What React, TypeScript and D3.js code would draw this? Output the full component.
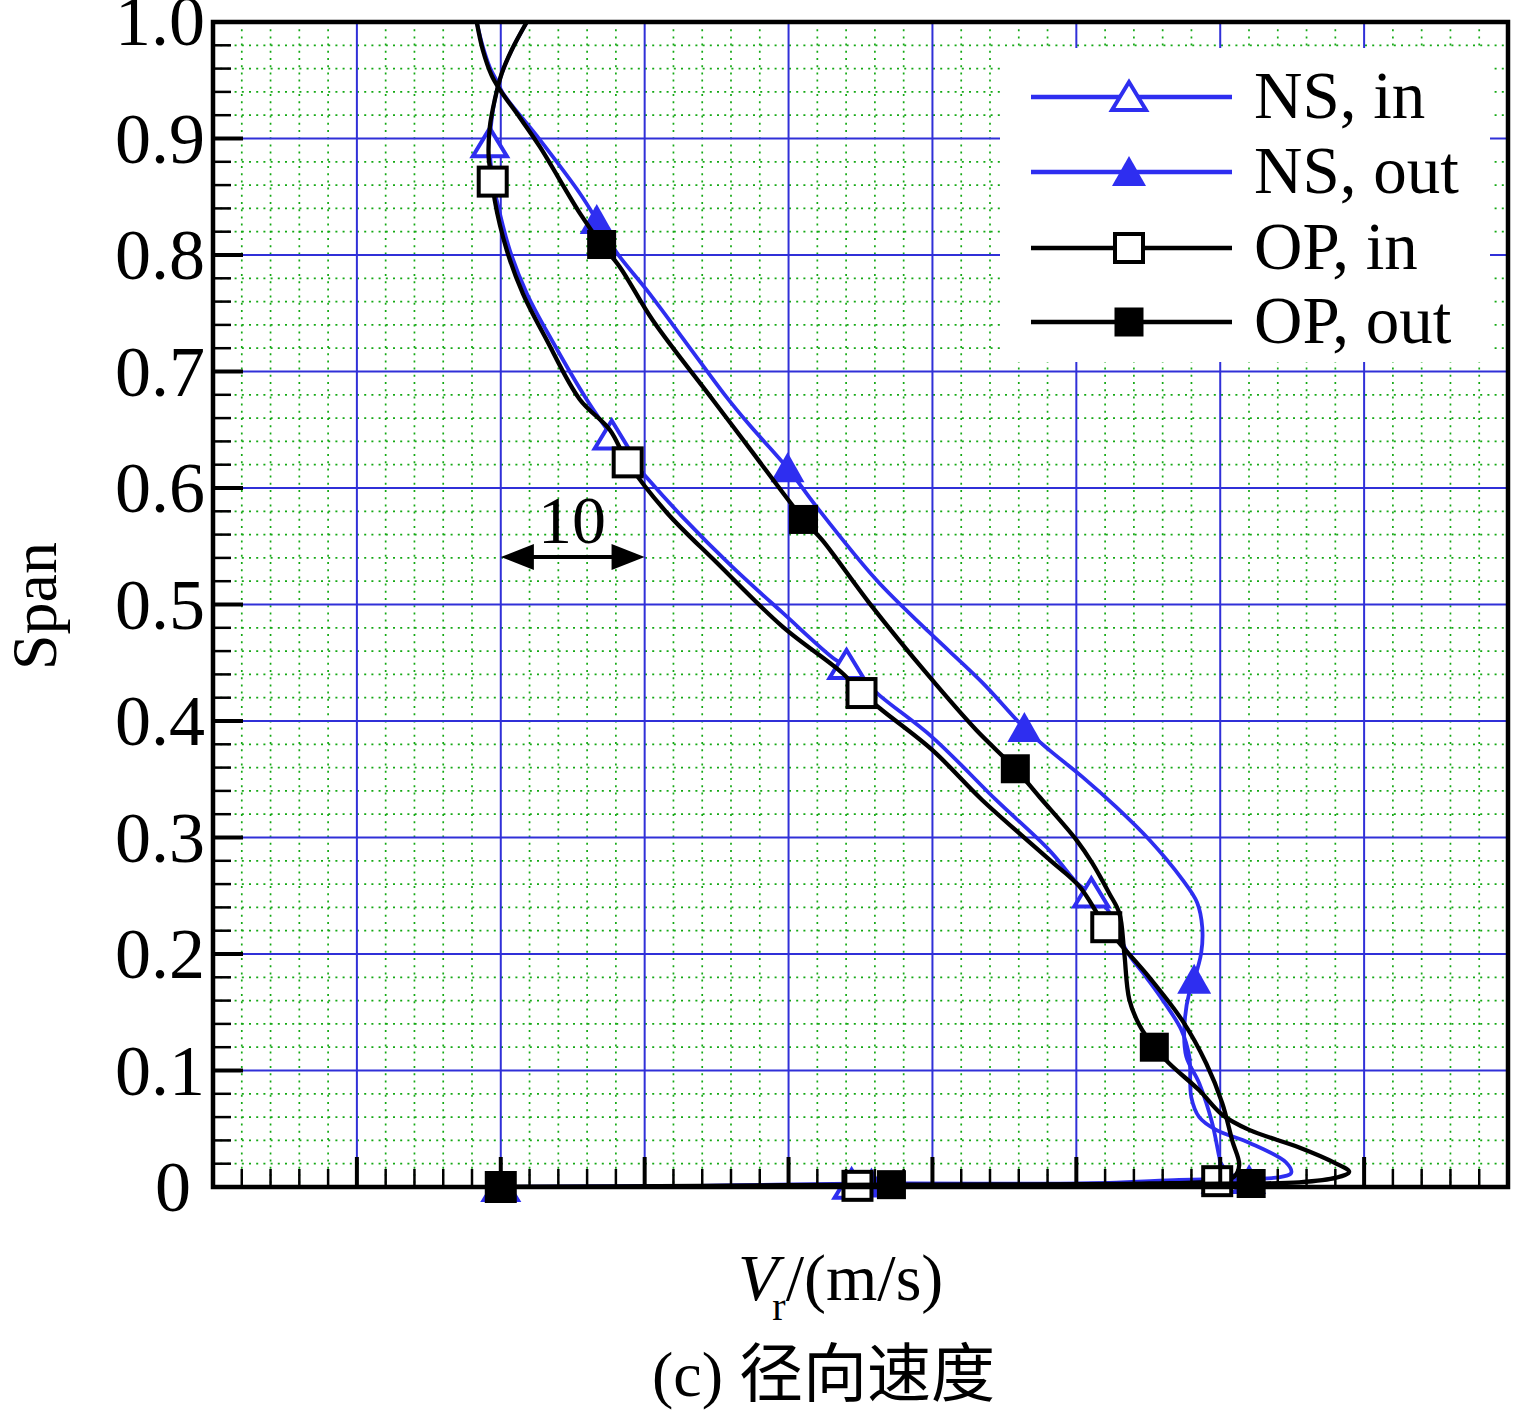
import React from 'react';
import * as d3 from 'd3';

// ---------- data (Vr in m/s, span 0..1) ----------
const xDomain: [number, number] = [-20, 70];
const spanTicks = [0, 0.1, 0.2, 0.3, 0.4, 0.5, 0.6, 0.7, 0.8, 0.9, 1.0];
const spanTickLabels = ['0', '0.1', '0.2', '0.3', '0.4', '0.5', '0.6', '0.7', '0.8', '0.9', '1.0'];
const seriesNames = ['NS, in', 'NS, out', 'OP, in', 'OP, out'];

const nsIn: [number, number][] = [
  [1.81, 1.0], [0.76, 0.976], [0.07, 0.956], [-0.42, 0.933], [-0.69, 0.91], [-0.76, 0.896],
  [-0.63, 0.869], [-0.28, 0.847], [0.63, 0.804], [1.81, 0.767], [3.54, 0.727], [5.97, 0.676],
  [7.71, 0.645], [10.14, 0.609], [12.64, 0.575], [16.11, 0.532], [19.58, 0.493], [23.33, 0.452],
  [24.03, 0.448], [26.32, 0.422], [30.0, 0.386], [34.44, 0.332], [38.13, 0.289], [40.21, 0.259],
  [41.04, 0.252], [42.29, 0.236], [43.47, 0.203], [44.86, 0.18], [45.97, 0.161], [47.29, 0.135],
  [47.85, 0.112], [47.99, 0.077], [48.54, 0.06], [49.72, 0.049], [52.01, 0.038], [54.58, 0.021],
  [54.93, 0.012], [53.89, 0.008], [50.07, 0.007], [47.15, 0.006], [40.9, 0.003], [24.38, 0.002],
  [13.82, 0.001], [0, 0],
];
const nsInMarkers: [number, number][] = [
  [-0.76, 0.896], [7.71, 0.645], [24.03, 0.448], [41.04, 0.252], [50.07, 0.007], [24.38, 0.002], [0, 0],
];

const nsOut: [number, number][] = [
  [-1.67, 1.0], [-1.32, 0.982], [-0.76, 0.961], [-0.21, 0.948], [0.14, 0.939], [2.71, 0.899],
  [5.49, 0.853], [6.67, 0.83], [8.06, 0.802], [10.14, 0.77], [12.92, 0.724], [15.69, 0.678],
  [17.29, 0.654], [19.93, 0.617], [21.94, 0.584], [26.11, 0.521], [29.79, 0.476], [33.47, 0.433],
  [36.39, 0.394], [38.13, 0.375], [40.42, 0.352], [42.78, 0.326], [45.07, 0.298], [47.36, 0.264],
  [48.4, 0.244], [48.75, 0.223], [48.68, 0.201], [48.19, 0.178], [47.85, 0.167], [47.5, 0.135],
  [47.64, 0.112], [48.54, 0.089], [49.44, 0.055], [49.93, 0.026], [50.14, 0.015], [51.32, 0.008],
  [52.01, 0.006], [41.6, 0.003], [25.76, 0.003], [13.82, 0.001], [0, 0],
];
const nsOutMarkers: [number, number][] = [
  [6.67, 0.83], [19.93, 0.617], [36.39, 0.394], [48.19, 0.178], [52.01, 0.006], [25.76, 0.003], [0, 0],
];

const opIn: [number, number][] = [
  [1.81, 1.0], [0.76, 0.976], [0.07, 0.956], [-0.42, 0.933], [-0.76, 0.91], [-0.83, 0.882],
  [-0.56, 0.863], [-0.42, 0.847], [0.42, 0.804], [1.53, 0.767], [3.19, 0.727], [5.49, 0.676],
  [7.57, 0.65], [8.82, 0.622], [11.53, 0.579], [15.0, 0.536], [19.58, 0.481], [23.75, 0.441],
  [25.07, 0.424], [26.53, 0.409], [30.0, 0.375], [33.47, 0.332], [38.13, 0.281], [40.21, 0.258],
  [42.08, 0.223], [45.07, 0.18], [47.36, 0.143], [49.03, 0.106], [50.14, 0.072], [50.83, 0.04],
  [51.32, 0.019], [50.97, 0.009], [49.79, 0.005], [45.07, 0.003], [34.65, 0.002], [24.79, 0.001],
  [13.82, 0], [0, 0],
];
const opInMarkers: [number, number][] = [
  [-0.56, 0.863], [8.82, 0.622], [25.07, 0.424], [42.08, 0.223], [49.79, 0.005], [24.79, 0.001], [0, 0],
];

const opOut: [number, number][] = [
  [-1.67, 1.0], [-1.25, 0.976], [-0.63, 0.954], [-0.07, 0.942], [1.32, 0.918], [2.71, 0.893],
  [5.49, 0.836], [7.01, 0.809], [8.26, 0.79], [10.56, 0.744], [14.72, 0.676], [17.29, 0.634],
  [21.04, 0.573], [22.36, 0.555], [25.63, 0.501], [29.79, 0.438], [33.06, 0.392], [35.76, 0.359],
  [37.43, 0.335], [40.0, 0.298], [41.11, 0.278], [42.29, 0.252], [42.99, 0.235], [43.33, 0.201],
  [43.68, 0.161], [44.38, 0.139], [45.42, 0.12], [46.46, 0.106], [48.54, 0.083], [50.14, 0.062],
  [52.01, 0.049], [55.49, 0.034], [57.92, 0.021], [58.96, 0.013], [58.06, 0.008], [55.49, 0.004],
  [52.15, 0.003], [41.6, 0.002], [27.15, 0.002], [13.82, 0.001], [0, 0],
];
const opOutMarkers: [number, number][] = [
  [7.01, 0.809], [21.04, 0.573], [35.76, 0.359], [45.42, 0.12], [52.15, 0.003], [27.15, 0.002], [0, 0],
];

// ---------- layout ----------
const W = 1524;
const H = 1415;
const PL = 213, PR = 1508, PT = 22, PB = 1187;
const BLUE = '#2e2ef0';
const GRID_BLUE = '#3030d8';
const GREEN = '#14a814';
const SERIF = '"Liberation Serif", "Times New Roman", serif';

type Marker = 'triOpen' | 'triFill' | 'sqOpen' | 'sqFill';

const series: { data: [number, number][]; markers: [number, number][]; color: string; width: number; marker: Marker }[] = [
  { data: nsIn, markers: nsInMarkers, color: BLUE, width: 3.8, marker: 'triOpen' },
  { data: nsOut, markers: nsOutMarkers, color: BLUE, width: 3.8, marker: 'triFill' },
  { data: opIn, markers: opInMarkers, color: '#000', width: 4.3, marker: 'sqOpen' },
  { data: opOut, markers: opOutMarkers, color: '#000', width: 4.3, marker: 'sqFill' },
];

function MarkerShape({ cx, cy, type, color }: { cx: number; cy: number; type: Marker; color: string }) {
  if (type === 'triOpen') {
    return <polygon points={`${cx},${cy - 15} ${cx - 17},${cy + 13} ${cx + 17},${cy + 13}`} fill="#fff" stroke={color} strokeWidth={4} strokeLinejoin="miter" />;
  }
  if (type === 'triFill') {
    return <polygon points={`${cx},${cy - 16} ${cx - 17},${cy + 14} ${cx + 17},${cy + 14}`} fill={color} stroke="none" />;
  }
  if (type === 'sqOpen') {
    return <rect x={cx - 14} y={cy - 14} width={28} height={28} fill="#fff" stroke={color} strokeWidth={4} />;
  }
  return <rect x={cx - 14.5} y={cy - 14.5} width={29} height={29} fill={color} />;
}

export default function App() {
  const x = d3.scaleLinear().domain(xDomain).range([PL, PR]);
  const y = d3.scaleLinear().domain([0, 1]).range([PB, PT]);

  const xMinor = d3.range(xDomain[0], xDomain[1] + 0.001, 2);
  const xMajor = d3.range(xDomain[0], xDomain[1] + 0.001, 10);
  const yMinor = d3.range(0, 1.0001, 0.02);
  const isMajorX = (v: number) => Math.abs(v / 10 - Math.round(v / 10)) < 1e-6;
  const isMajorY = (v: number) => Math.abs(v * 10 - Math.round(v * 10)) < 1e-6;

  const line = d3
    .line<[number, number]>()
    .x((d) => x(d[0]))
    .y((d) => y(d[1]))
    .curve(d3.curveCatmullRom.alpha(0.5));

  const legendRows = [97, 172, 248, 322];

  return (
    <svg width={W} height={H} style={{ position: 'absolute', left: 0, top: 0, background: '#fff' }} xmlns="http://www.w3.org/2000/svg">
      <defs>
        <clipPath id="plotClip">
          <rect x={PL} y={PT} width={PR - PL} height={PB - PT} />
        </clipPath>
      </defs>
      <rect x={0} y={0} width={W} height={H} fill="#fff" />

      {/* minor grid */}
      <g stroke={GREEN} strokeWidth={1.7} strokeDasharray="2 5.2">
        {xMinor.filter((v) => !isMajorX(v)).map((v) => (
          <line key={`gx${v}`} x1={x(v)} x2={x(v)} y1={PT} y2={PB} />
        ))}
        {yMinor.filter((v) => !isMajorY(v)).map((v) => (
          <line key={`gy${v}`} x1={PL} x2={PR} y1={y(v)} y2={y(v)} />
        ))}
      </g>
      {/* major grid */}
      <g stroke={GRID_BLUE} strokeWidth={2}>
        {xMajor.map((v) => (
          <line key={`Gx${v}`} x1={x(v)} x2={x(v)} y1={PT} y2={PB} />
        ))}
        {spanTicks.map((v) => (
          <line key={`Gy${v}`} x1={PL} x2={PR} y1={y(v)} y2={y(v)} />
        ))}
      </g>

      {/* legend background */}
      <rect x={1000} y={48} width={490} height={314} fill="#fff" />
      {series.map((s, i) => (
        <g key={`leg${i}`}>
          <line x1={1031} x2={1232} y1={legendRows[i]} y2={legendRows[i]} stroke={s.color} strokeWidth={4.5} />
          <MarkerShape cx={1129} cy={legendRows[i]} type={s.marker} color={s.color} />
          <text x={1254} y={legendRows[i] + 21} fontFamily={SERIF} fontSize={67} fill="#000">
            {seriesNames[i]}
          </text>
        </g>
      ))}

      {/* curves */}
      {series.map((s, i) => (
        <g key={`s${i}`}>
          <path d={line(s.data) || ''} fill="none" stroke={s.color} strokeWidth={s.width} strokeLinejoin="round" clipPath="url(#plotClip)" />
          {s.markers.map((m, j) => (
            <MarkerShape key={j} cx={x(m[0])} cy={y(m[1])} type={s.marker} color={s.color} />
          ))}
        </g>
      ))}

      {/* frame */}
      <rect x={PL} y={PT} width={PR - PL} height={PB - PT} fill="none" stroke="#000" strokeWidth={4.5} />
      {/* left ticks */}
      {yMinor.map((v) => {
        const maj = isMajorY(v);
        return (
          <line key={`ty${v}`} x1={PL} x2={PL + (maj ? 30 : 18)} y1={y(v)} y2={y(v)} stroke="#000" strokeWidth={maj ? 4 : 2.5} />
        );
      })}
      {/* bottom ticks */}
      {xMinor.map((v) => {
        const maj = isMajorX(v);
        return (
          <line key={`tx${v}`} x1={x(v)} x2={x(v)} y1={PB} y2={PB - (maj ? 30 : 18)} stroke="#000" strokeWidth={maj ? 4 : 2.5} />
        );
      })}

      {/* y tick labels */}
      {spanTicks.map((v, i) => (
        <text
          key={`yl${i}`}
          x={i === 0 ? 191 : 205}
          y={y(v) + (i === 10 ? 23 : 24)}
          textAnchor="end"
          fontFamily={SERIF}
          fontSize={72}
          fill="#000"
        >
          {spanTickLabels[i]}
        </text>
      ))}

      {/* y axis title */}
      <text transform="translate(56,606) rotate(-90)" textAnchor="middle" fontFamily={SERIF} fontSize={64} fill="#000">
        Span
      </text>

      {/* x axis title */}
      <text x={738} y={1300} fontFamily={SERIF} fontSize={66} fill="#000">
        <tspan fontStyle="italic">V</tspan>
        <tspan fontSize={40} dx={-6} dy={20}>r</tspan>
        <tspan dy={-20}>/(m/s)</tspan>
      </text>

      {/* scale annotation */}
      <g>
        <line x1={x(1.5)} x2={x(8.5)} y1={557} y2={557} stroke="#000" strokeWidth={4} />
        <polygon points={`${x(0)},557 ${x(2.3)},544 ${x(2.3)},570`} fill="#000" />
        <polygon points={`${x(10)},557 ${x(7.7)},544 ${x(7.7)},570`} fill="#000" />
        <text x={572} y={543} textAnchor="middle" fontFamily={SERIF} fontSize={68} fill="#000">
          10
        </text>
      </g>

      {/* caption */}
      <text x={652} y={1396} fontSize={64} fill="#000">
        <tspan fontFamily={SERIF}>(c) </tspan>
        <tspan fontFamily={'"Noto Sans CJK SC", sans-serif'}>径向速度</tspan>
      </text>
    </svg>
  );
}
